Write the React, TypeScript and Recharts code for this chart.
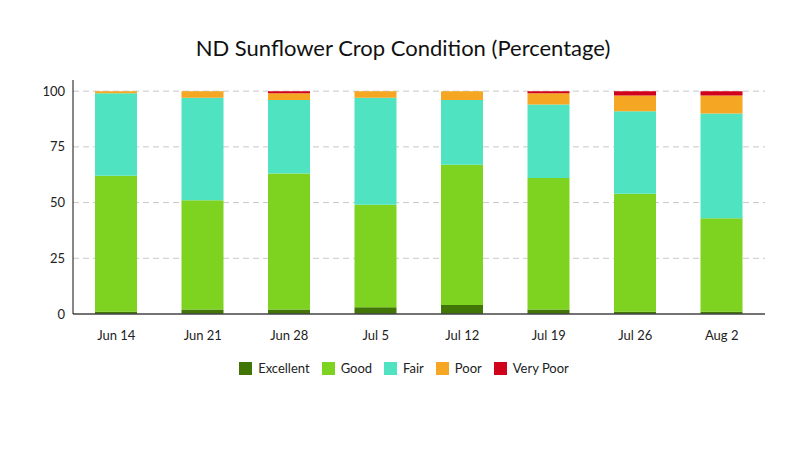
import { BarChart, Bar, XAxis, YAxis, CartesianGrid, Legend } from "recharts";

const weeks = ["Jun 14", "Jun 21", "Jun 28", "Jul 5", "Jul 12", "Jul 19", "Jul 26", "Aug 2"];
const excellent = [1, 2, 2, 3, 4, 2, 1, 1];
const good = [61, 49, 61, 46, 63, 59, 53, 42];
const fair = [37, 46, 33, 48, 29, 33, 37, 47];
const poor = [1, 3, 3, 3, 4, 5, 7, 8];
const veryPoor = [0, 0, 1, 0, 0, 1, 2, 2];
const yTicks = [0, 25, 50, 75, 100];

const series = [
  { key: "excellent", name: "Excellent", color: "#417505" },
  { key: "good", name: "Good", color: "#7ed321" },
  { key: "fair", name: "Fair", color: "#50e3c2" },
  { key: "poor", name: "Poor", color: "#f5a623" },
  { key: "veryPoor", name: "Very Poor", color: "#d0021b" },
];

const data = weeks.map((week, i) => ({
  week,
  excellent: excellent[i],
  good: good[i],
  fair: fair[i],
  poor: poor[i],
  veryPoor: veryPoor[i],
}));

const font = "Lato, 'Open Sans', sans-serif";

function LegendContent() {
  return (
    <div style={{ display: "flex", justifyContent: "center", gap: 12, fontSize: 13, fontFamily: font, color: "#222" }}>
      {series.map((s) => (
        <div key={s.key} style={{ display: "flex", alignItems: "center", gap: 6 }}>
          <span style={{ display: "inline-block", width: 13, height: 13, background: s.color }} />
          <span>{s.name}</span>
        </div>
      ))}
    </div>
  );
}

export default function App() {
  return (
    <div style={{ position: "absolute", top: 0, left: 0, width: 800, height: 450, fontFamily: font, background: "#fff" }}>
      <div style={{ position: "absolute", top: 34, left: 0, width: 806, textAlign: "center", fontSize: 22, color: "#111" }}>
        ND Sunflower Crop Condition (Percentage)
      </div>
      <BarChart width={800} height={450} data={data} margin={{ top: 80, right: 35, left: 0, bottom: 90 }}>
        <CartesianGrid vertical={false} stroke="#c8c8c8" strokeDasharray="6 4" horizontalValues={[25, 50, 75, 100]} />
        <XAxis
          dataKey="week"
          tickLine={false}
          axisLine={{ stroke: "#444", strokeWidth: 1.5 }}
          tick={{ fill: "#222", fontSize: 13, fontFamily: font }}
          tickMargin={11}
          height={30}
        />
        <YAxis
          domain={[0, 105]}
          ticks={yTicks}
          width={73}
          tickLine={false}
          axisLine={{ stroke: "#111" }}
          tick={{ fill: "#222", fontSize: 13, fontFamily: font }}
        />
        <Legend content={LegendContent} wrapperStyle={{ top: 360, left: 0, width: 808 }} />
        {series.map((s) => (
          <Bar key={s.key} dataKey={s.key} name={s.name} stackId="a" fill={s.color} barSize={42} isAnimationActive={false} />
        ))}
      </BarChart>
    </div>
  );
}
